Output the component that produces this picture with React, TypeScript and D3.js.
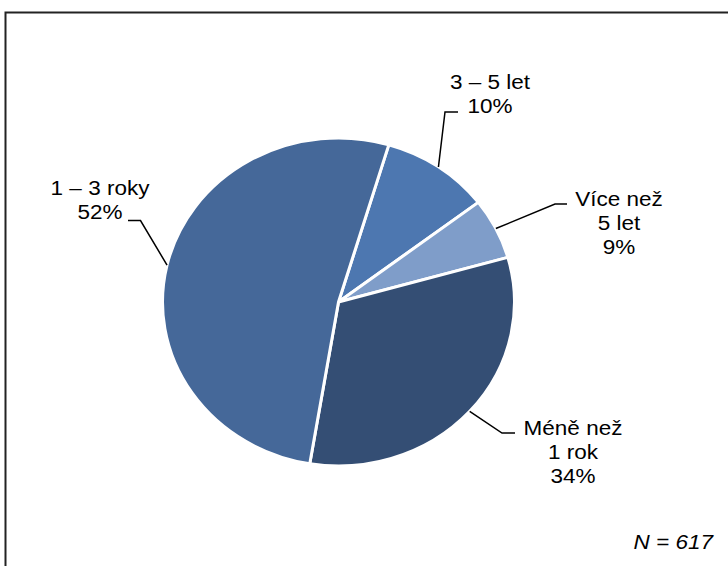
import React from "react";
import * as d3 from "d3";

// Data
const categories = ["3 – 5 let", "Více než 5 let", "Méně než 1 rok", "1 – 3 roky"];
const sliceValues = [10, 6, 32, 52];
const labelLines = [["3 – 5 let"], ["Více než", "5 let"], ["Méně než", "1 rok"], ["1 – 3 roky"]];
const labelPercents = ["10%", "9%", "34%", "52%"];
const colors = ["#4D77B0", "#7F9DC9", "#344E74", "#456899"];
const footnote = "N = 617";

// Layout
const W = 728;
const H = 566;
const cx = 338.5;
const cy = 302;
const R = 164;
const SX = 1.073;
const startDeg = 16.6;
const FS = 21;
const LH = 24;
// label layout: elbow point, end point, text center x, first baseline
const labelLayout = [
  { elbow: [445, 112], end: [458, 112], tx: 490, ty: 89 },
  { elbow: [555, 204], end: [567, 204], tx: 619, ty: 205.5 },
  { elbow: [502, 433], end: [515, 433], tx: 573, ty: 435 },
  { elbow: [140.5, 220.5], end: [128, 220.5], tx: 100, ty: 195 },
];

export default function App() {
  const start = (startDeg * Math.PI) / 180;
  const pie = d3
    .pie<number>()
    .sort(null)
    .startAngle(start)
    .endAngle(start + 2 * Math.PI);
  const arcs = pie(sliceValues);
  const arc = d3.arc<d3.PieArcDatum<number>>().innerRadius(0).outerRadius(R);

  const edgePoint = (a: d3.PieArcDatum<number>) => {
    const m = (a.startAngle + a.endAngle) / 2;
    return [cx + Math.sin(m) * R * SX, cy - Math.cos(m) * R];
  };

  return (
    <svg
      width={W}
      height={H}
      style={{ position: "absolute", left: 0, top: 0, display: "block", background: "#fff" }}
      fontFamily="'Liberation Sans', Arial, sans-serif"
    >
      <rect x={5.5} y={12.5} width={900} height={800} fill="#fff" stroke="#222" strokeWidth={2} />
      <g transform={`translate(${cx},${cy}) scale(${SX},1)`}>
        {arcs.map((a, i) => (
          <path
            key={categories[i]}
            d={arc(a) || ""}
            fill={colors[i]}
            stroke="#fff"
            strokeWidth={3}
            strokeLinejoin="round"
            vectorEffect="non-scaling-stroke"
          />
        ))}
      </g>
      {arcs.map((a, i) => {
        const p = edgePoint(a);
        const L = labelLayout[i];
        return (
          <polyline
            key={"l" + i}
            points={`${p[0]},${p[1]} ${L.elbow[0]},${L.elbow[1]} ${L.end[0]},${L.end[1]}`}
            fill="none"
            stroke="#000"
            strokeWidth={1.5}
          />
        );
      })}
      {labelLines.map((lines, i) => {
        const L = labelLayout[i];
        const all = [...lines, labelPercents[i]];
        return (
          <g key={"t" + i}>
            {all.map((t, j) => (
              <text
                key={j}
                transform={`translate(${L.tx},${L.ty + j * LH}) scale(${SX},1)`}
                textAnchor="middle"
                fontSize={FS}
                fill="#000"
              >
                {t}
              </text>
            ))}
          </g>
        );
      })}
      <text
        transform={`translate(713,548.5) scale(${SX},1)`}
        textAnchor="end"
        fontSize={FS}
        fontStyle="italic"
        fill="#000"
      >
        {footnote}
      </text>
    </svg>
  );
}
